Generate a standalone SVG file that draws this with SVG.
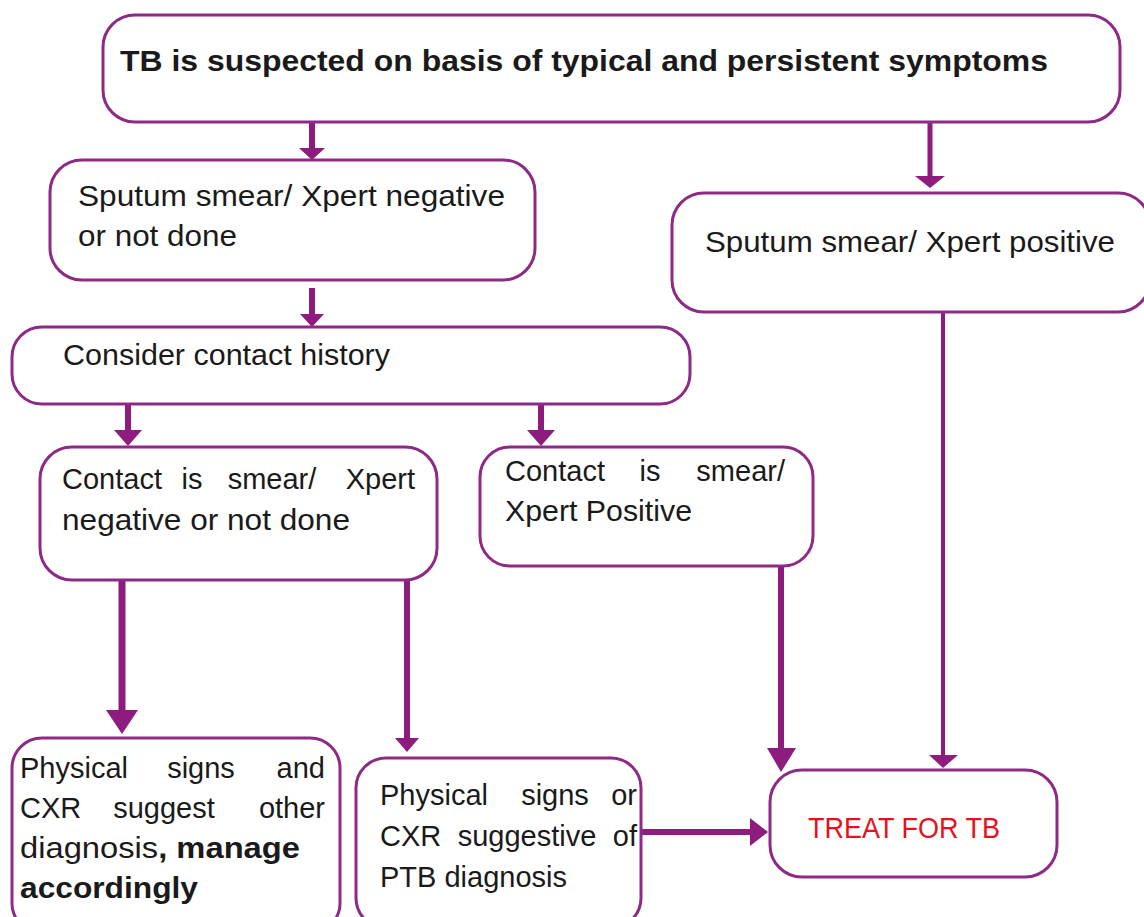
<svg xmlns="http://www.w3.org/2000/svg" width="1144" height="917" viewBox="0 0 1144 917">
<style>
.box{fill:#fff;stroke:#8e2a86;stroke-width:3}
.t{font-family:"Liberation Sans",Arial,sans-serif;font-size:29px;fill:#1a1a1a}
.b{font-weight:bold}
.m{text-anchor:middle}
.e{text-anchor:end}
.ln{stroke:#8e1c7e;fill:none}
.hd{fill:#8e1c7e}
</style>
<rect width="1144" height="917" fill="#fff"/>
<g id="connectors">
<line class="ln" x1="312" y1="122" x2="312" y2="149" stroke-width="6"/><polygon class="hd" points="299,148 325,148 312,160"/>
<line class="ln" x1="930" y1="122" x2="930" y2="177" stroke-width="5"/><polygon class="hd" points="915,176 945,176 930,188"/>
<line class="ln" x1="312" y1="288" x2="312" y2="315" stroke-width="6"/><polygon class="hd" points="300,314 324,314 312,327"/>
<line class="ln" x1="128" y1="405" x2="128" y2="431" stroke-width="6"/><polygon class="hd" points="114,430 142,430 128,446"/>
<line class="ln" x1="541" y1="405" x2="541" y2="431" stroke-width="6"/><polygon class="hd" points="527,430 555,430 541,446"/>
<line class="ln" x1="122" y1="580" x2="122" y2="711" stroke-width="7"/><polygon class="hd" points="106,710 138,710 122,734"/>
<line class="ln" x1="407" y1="580" x2="407" y2="739" stroke-width="6"/><polygon class="hd" points="395,738 419,738 407,752"/>
<line class="ln" x1="781" y1="566" x2="781" y2="749" stroke-width="6"/><polygon class="hd" points="767,748 796,748 781,772"/>
<line class="ln" x1="943" y1="312" x2="943" y2="756" stroke-width="4"/><polygon class="hd" points="929,755 958,755 943,768"/>
<line class="ln" x1="641" y1="832" x2="751" y2="832" stroke-width="6"/><polygon class="hd" points="750,818 750,846 768,832"/>
</g>
<g id="n1"><rect class="box" x="103" y="15" width="1017" height="107" rx="32"/>
<text class="t b" x="120" y="71" font-size="32" textLength="928" lengthAdjust="spacingAndGlyphs">TB is suspected on basis of typical and persistent symptoms</text></g>
<g id="n2"><rect class="box" x="50" y="160" width="485" height="120" rx="32"/>
<text class="t" x="78" y="206" textLength="427" lengthAdjust="spacingAndGlyphs">Sputum smear/ Xpert negative</text>
<text class="t" x="78" y="246" textLength="159" lengthAdjust="spacingAndGlyphs">or not done</text></g>
<g id="n3"><rect class="box" x="672" y="193" width="478" height="119" rx="32"/>
<text class="t" x="705" y="252" textLength="410" lengthAdjust="spacingAndGlyphs">Sputum smear/ Xpert positive</text></g>
<g id="n4"><rect class="box" x="12" y="327" width="678" height="77" rx="30"/>
<text class="t" x="63" y="365" textLength="327" lengthAdjust="spacingAndGlyphs">Consider contact history</text></g>
<g id="n5"><rect class="box" x="40" y="447" width="397" height="133" rx="32"/>
<text class="t" y="489"><tspan x="62">Contact</tspan><tspan class="m" x="192">is</tspan><tspan class="m" x="272">smear/</tspan><tspan class="e" x="415">Xpert</tspan></text>
<text class="t" x="62" y="530" textLength="288" lengthAdjust="spacingAndGlyphs">negative or not done</text></g>
<g id="n6"><rect class="box" x="480" y="447" width="333" height="119" rx="30"/>
<text class="t" y="481"><tspan x="505">Contact</tspan><tspan class="m" x="650">is</tspan><tspan class="e" x="785">smear/</tspan></text>
<text class="t" x="505" y="521" textLength="187" lengthAdjust="spacingAndGlyphs">Xpert Positive</text></g>
<g id="n7"><rect class="box" x="12" y="738" width="328" height="195" rx="30"/>
<text class="t" y="778"><tspan x="20">Physical</tspan><tspan class="m" x="201">signs</tspan><tspan class="e" x="325">and</tspan></text>
<text class="t" y="818"><tspan x="20">CXR</tspan><tspan class="m" x="164">suggest</tspan><tspan class="e" x="325">other</tspan></text>
<text class="t" x="20" y="858" textLength="280" lengthAdjust="spacingAndGlyphs">diagnosis<tspan class="b">, manage</tspan></text>
<text class="t b" x="20" y="898" textLength="178" lengthAdjust="spacingAndGlyphs">accordingly</text></g>
<g id="n8"><rect class="box" x="356" y="758" width="285" height="170" rx="30"/>
<text class="t" y="805"><tspan x="380">Physical</tspan><tspan class="m" x="555">signs</tspan><tspan class="e" x="637">or</tspan></text>
<text class="t" y="846"><tspan x="380">CXR</tspan><tspan class="m" x="527">suggestive</tspan><tspan class="e" x="637">of</tspan></text>
<text class="t" x="380" y="887">PTB diagnosis</text></g>
<g id="n9"><rect class="box" x="770" y="770" width="287" height="107" rx="32"/>
<text class="t" x="808" y="838" font-size="26" style="fill:#e8101c" textLength="192" lengthAdjust="spacingAndGlyphs">TREAT FOR TB</text></g>
</svg>
